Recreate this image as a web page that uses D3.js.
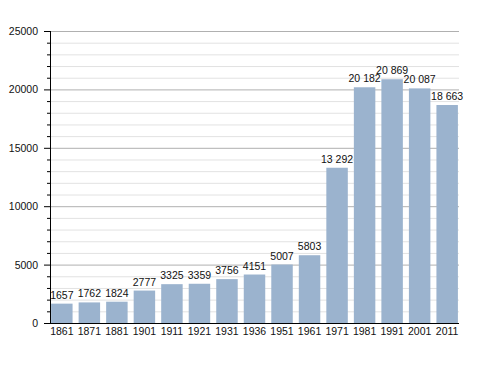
<!DOCTYPE html>
<html>
<head>
<meta charset="utf-8">
<script src="https://cdn.jsdelivr.net/npm/d3@7"></script>
<style>
  body { margin: 0; background: #fff; }
  text { font-family: "Liberation Sans", Arial, sans-serif; fill: #111; }
</style>
</head>
<body>
<svg width="488" height="373"></svg>
<script>
const years = ['1861', '1871', '1881', '1901', '1911', '1921', '1931', '1936', '1951', '1961', '1971', '1981', '1991', '2001', '2011'];
const population = [1657, 1762, 1824, 2777, 3325, 3359, 3756, 4151, 5007, 5803, 13292, 20182, 20869, 20087, 18663];
const majorTicks = [0, 5000, 10000, 15000, 20000, 25000];

const svg = d3.select('svg');
const plotLeft = 50, plotRight = 459, plotTop = 31, plotBottom = 323;

const x = d3.scaleBand()
    .domain(years)
    .range([plotLeft, plotRight])
    .paddingInner(0.22)
    .paddingOuter(0.04);

const y = d3.scaleLinear()
    .domain([0, 25000])
    .range([plotBottom, plotTop]);

const minorTicks = d3.range(0, 25001, 1000).filter(v => v % 5000 !== 0);

// minor grid
svg.append('g')
    .selectAll('line')
    .data(minorTicks)
    .enter()
    .append('line')
    .attr('x1', plotLeft).attr('x2', plotRight)
    .attr('y1', d => y(d) + 0.5).attr('y2', d => y(d) + 0.5)
    .attr('stroke', '#e2e2e2');

// major grid
svg.append('g')
    .selectAll('line')
    .data(majorTicks.filter(d => d > 0))
    .enter()
    .append('line')
    .attr('x1', plotLeft).attr('x2', plotRight)
    .attr('y1', d => y(d) + 0.5).attr('y2', d => y(d) + 0.5)
    .attr('stroke', '#b0b0b0');

// bars
svg.append('g')
    .selectAll('rect')
    .data(population)
    .enter()
    .append('rect')
    .attr('x', (d, i) => x(years[i]))
    .attr('width', x.bandwidth())
    .attr('y', d => y(d))
    .attr('height', d => plotBottom - y(d))
    .attr('fill', '#9bb3ce');

// value labels
const fmt = v => v >= 10000 ? d3.format(',')(v).replace(',', ' ') : String(v);
svg.append('g')
    .selectAll('text')
    .data(population)
    .enter()
    .append('text')
    .attr('x', (d, i) => x(years[i]) + x.bandwidth() / 2)
    .attr('y', d => y(d) - 5)
    .attr('text-anchor', 'middle')
    .style('font-size', '10.5px')
    .text(fmt);

// y axis
const yAxis = svg.append('g');
yAxis.append('line')
    .attr('x1', plotLeft + 0.5).attr('x2', plotLeft + 0.5)
    .attr('y1', plotTop).attr('y2', plotBottom)
    .attr('stroke', '#000');
yAxis.selectAll('.minor')
    .data(minorTicks)
    .enter()
    .append('line')
    .attr('x1', plotLeft - 3).attr('x2', plotLeft)
    .attr('y1', d => y(d) + 0.5).attr('y2', d => y(d) + 0.5)
    .attr('stroke', '#000');
yAxis.selectAll('.major')
    .data(majorTicks)
    .enter()
    .append('line')
    .attr('x1', plotLeft - 6).attr('x2', plotLeft)
    .attr('y1', d => y(d) + 0.5).attr('y2', d => y(d) + 0.5)
    .attr('stroke', '#000');
yAxis.selectAll('text')
    .data(majorTicks)
    .enter()
    .append('text')
    .attr('x', 38)
    .attr('y', d => y(d) + 4)
    .attr('text-anchor', 'end')
    .style('font-size', '10.5px')
    .text(d => d);

// x axis
svg.append('line')
    .attr('x1', plotLeft).attr('x2', plotRight)
    .attr('y1', plotBottom + 0.5).attr('y2', plotBottom + 0.5)
    .attr('stroke', '#000');
svg.append('g')
    .selectAll('text')
    .data(years)
    .enter()
    .append('text')
    .attr('x', d => x(d) + x.bandwidth() / 2)
    .attr('y', 335)
    .attr('text-anchor', 'middle')
    .style('font-size', '10.5px')
    .text(d => d);
</script>
</body>
</html>
